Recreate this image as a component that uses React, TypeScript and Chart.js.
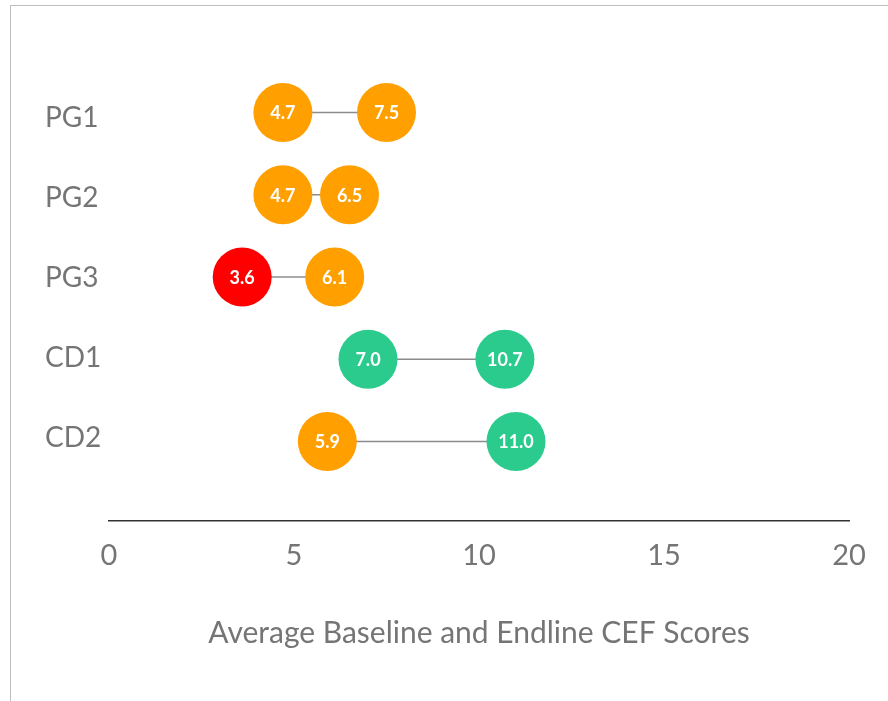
import React, { useEffect, useRef } from "react";
import { Chart, registerables } from "chart.js";

Chart.register(...registerables);

const categories = ["PG1", "PG2", "PG3", "CD1", "CD2"];
const baseline = [4.7, 4.7, 3.6, 7.0, 5.9];
const endline = [7.5, 6.5, 6.1, 10.7, 11.0];
const xTicks = [0, 5, 10, 15, 20];
const axisTitle = "Average Baseline and Endline CEF Scores";

const RED = "#ff0000";
const ORANGE = "#ffa000";
const GREEN = "#2bcb8e";
const baselineColors = [ORANGE, ORANGE, RED, GREEN, ORANGE];
const endlineColors = [ORANGE, ORANGE, ORANGE, GREEN, GREEN];
const TEXT = "#757575";
const FONT = "Lato, 'Open Sans', sans-serif";

const valueLabels = {
  id: "valueLabels",
  afterDatasetsDraw(chart: any) {
    const ctx = chart.ctx;
    ctx.save();
    ctx.fillStyle = "#ffffff";
    ctx.font = `bold 18px ${FONT}`;
    ctx.textAlign = "center";
    ctx.textBaseline = "middle";
    chart.data.datasets.forEach((ds: any, i: number) => {
      const meta = chart.getDatasetMeta(i);
      meta.data.forEach((pt: any, j: number) => {
        const v = ds.data[j].x;
        ctx.fillText(v.toFixed(1), pt.x, pt.y + 1);
      });
    });
    ctx.restore();
  },
};

export default function App() {
  const ref = useRef<HTMLCanvasElement>(null);

  useEffect(() => {
    if (!ref.current) return;
    const datasets = categories.map((c, i) => ({
      label: c,
      data: [
        { x: baseline[i], y: i },
        { x: endline[i], y: i },
      ],
      showLine: true,
      borderColor: "#8c8c8c",
      borderWidth: 1.5,
      pointRadius: 29.5,
      pointHoverRadius: 29.5,
      pointBorderWidth: 0,
      pointBackgroundColor: [baselineColors[i], endlineColors[i]],
      yAxisID: "y",
    }));

    const chart = new Chart(ref.current, {
      type: "line",
      data: { datasets },
      plugins: [valueLabels],
      options: {
        responsive: false,
        animation: false,
        events: [],
        layout: { padding: { left: 45, right: 39, top: 71.4, bottom: 0 } },
        plugins: { legend: { display: false }, tooltip: { enabled: false } },
        scales: {
          x: {
            type: "linear",
            min: 0,
            max: 20,
            afterBuildTicks: (scale: any) => {
              scale.ticks = xTicks.map((v) => ({ value: v }));
            },
            afterFit: (scale: any) => {
              scale.height = 180;
            },
            grid: { display: false, drawTicks: false },
            border: { display: true, color: "#333333", width: 1.5 },
            ticks: {
              color: TEXT,
              font: { family: FONT, size: 29 },
              padding: 17,
              maxRotation: 0,
            },
            title: {
              display: true,
              text: axisTitle,
              color: TEXT,
              font: { family: FONT, size: 30 },
              padding: { top: 0, bottom: 50 },
            },
          },
          y: {
            type: "linear",
            display: false,
            reverse: true,
            min: -0.5,
            max: 4.967,
          },
          yLabels: {
            type: "linear",
            position: "left",
            reverse: true,
            min: -0.576,
            max: 5.044,
            afterBuildTicks: (scale: any) => {
              scale.ticks = categories.map((_, i) => ({ value: i }));
            },
            afterFit: (scale: any) => {
              scale.width = 64;
            },
            grid: { display: false, drawTicks: false },
            border: { display: false },
            ticks: {
              color: TEXT,
              crossAlign: "far",
              padding: 0,
              font: { family: FONT, size: 28 },
              callback: (v: any) => categories[v as number] ?? "",
            },
          },
        },
      } as any,
    });
    return () => chart.destroy();
  }, []);

  return (
    <div>
      <div
        style={{
          position: "fixed",
          left: 10,
          top: 5,
          width: 2000,
          height: 2000,
          borderLeft: "1px solid #bdbdbd",
          borderTop: "1px solid #bdbdbd",
          pointerEvents: "none",
        }}
      />
      <canvas
        ref={ref}
        width={888}
        height={701}
        style={{ position: "fixed", left: 0, top: 0, width: 888, height: 701 }}
      />
    </div>
  );
}
